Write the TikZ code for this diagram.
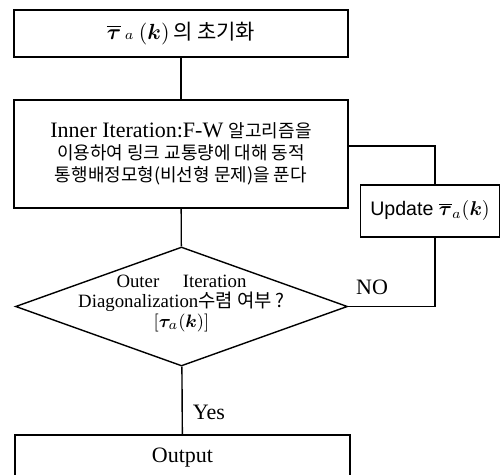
\documentclass[tikz,border=0pt]{standalone}
\usepackage{fontspec}
\usepackage{amsmath,bm}
\setmainfont{Liberation Serif}
\newfontfamily\kr{Noto Sans CJK KR}
\newfontfamily\sanslat{Liberation Sans}
\usetikzlibrary{shapes.geometric}
\begin{document}
\begin{tikzpicture}[x=0.5pt,y=-0.5pt,
  box/.style={draw, line width=0.7pt, rectangle, inner sep=0pt},
  conn/.style={draw, line width=0.7pt},
  every node/.style={font=\fontsize{11}{11}\selectfont}]
\useasboundingbox (0,0) rectangle (502,475);
\clip (0,0) rectangle (502,475);
\node[box, minimum width=167pt, minimum height=23.5pt, font=\fontsize{10.5}{12}\selectfont] (init) at (181,33.5)
  {$\overline{\bm\tau}\,{\scriptstyle a}\ (\bm k)${\kr\,의 초기화}};
\node[box, minimum width=167pt, minimum height=54pt, align=center] (inner) at (181,154)
  {Inner Iteration:F-W {\kr\fontsize{9}{11}\selectfont 알고리즘을}\\{\kr\fontsize{9}{11}\selectfont 이용하여 링크 교통량에 대해 동적}\\{\kr\fontsize{9}{11}\selectfont 통행배정모형(비선형 문제)을 푼다}};
\node[box, minimum width=69.5pt, minimum height=26pt, font=\fontsize{9.8}{11}\selectfont] (upd) at (430,211)
  {\sanslat Update $\overline{\bm\tau}_a(\bm k)$};
\node[draw, diamond, line width=0.7pt, minimum width=166pt, minimum height=59.5pt, inner sep=0pt] (dec) at (181.5,306.5) {};
\node[align=center, font=\fontsize{9.4}{10}\selectfont] (dect) at (181.5,304)
  {Outer\quad\ Iteration\\Diagonalization{\kr 수렴 여부 ?}\\$[\bm\tau_a(\bm k)]$};
\node[box, minimum width=167.5pt, minimum height=23pt] (out) at (182.5,458) {Output};
\node (no) at (372,287) {NO};
\node (yes) at (209,412) {Yes};
\draw[conn] (init) -- (inner);
\draw[conn] (inner) -- (dec);
\draw[conn] (dec) -- (out);
\draw[conn] ([yshift=4pt]inner.east) -| ([xshift=2.5pt]upd.north);
\draw[conn] ([xshift=2.5pt]upd.south) |- (dec.east);
\end{tikzpicture}
\end{document}
